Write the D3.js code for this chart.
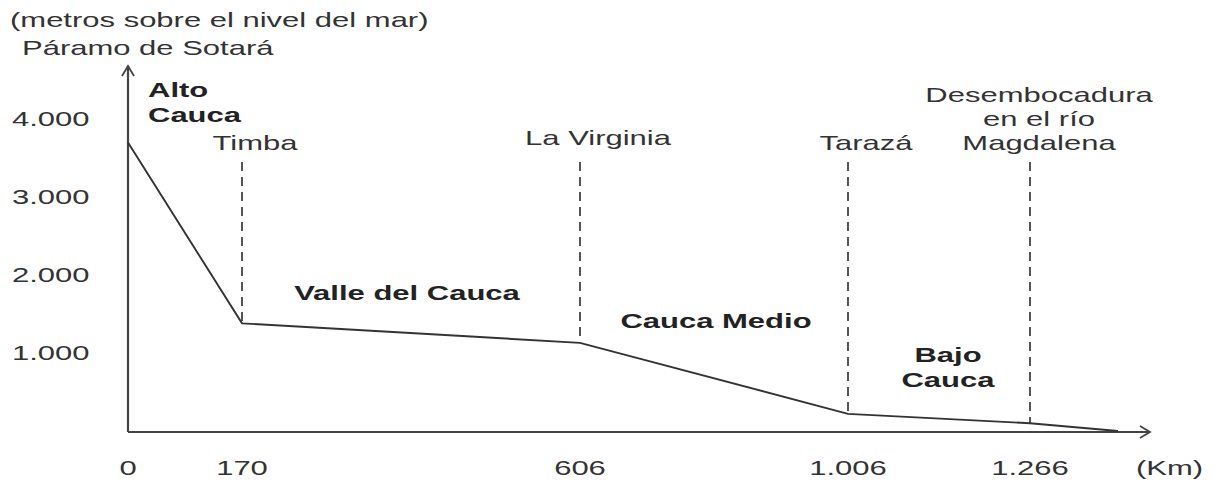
<!DOCTYPE html>
<html><head><meta charset="utf-8">
<script src="https://cdn.jsdelivr.net/npm/d3@7"></script>
<style>body{margin:0;background:#fff}text{font-family:"Liberation Sans",Arial,sans-serif;fill:#333}</style>
</head><body><svg id="c" width="1215" height="484"></svg>
<script>
// Data
const profileKm = [0, 170, 606, 1006, 1266, 1350];
const profileElev = [3700, 1380, 1130, 220, 100, 0];
const tickKm = [0, 170, 606, 1006, 1266];
const tickKmLabels = ["0", "170", "606", "1.006", "1.266"];
const yTicks = [1000, 2000, 3000, 4000];
const yTickLabels = ["1.000", "2.000", "3.000", "4.000"];
const places = ["Timba", "La Virginia", "Tarazá", "Desembocadura\nen el río\nMagdalena"];
const placeKm = [170, 606, 1006, 1266];
const regions = ["Alto\nCauca", "Valle del Cauca", "Cauca Medio", "Bajo\nCauca"];

const svg = d3.select("#c");
const x = d3.scaleLinear().domain([0,170,606,1006,1266,1350]).range([128,242,580,848,1030,1118]);
const y = d3.scaleLinear().domain([0,4000]).range([431,119]);
const ink = "#333";
const SX = 1.55, FS = 20;

// stretched text helper
function label(px, py, lines, opts={}) {
  const g = svg.append("g").attr("transform", `translate(${px},${py}) scale(${SX},1)`);
  const t = g.append("text").attr("text-anchor", opts.anchor || "start").attr("font-size", FS)
    .attr("font-weight", opts.bold ? "bold" : null);
  if (opts.bold) t.style("fill", "#222");
  lines.forEach((s, j) => t.append("tspan").attr("x", 0).attr("y", j * (opts.lh || 24)).text(s));
  return t;
}

// axes
svg.append("line").attr("x1",x(0)).attr("x2",x(0)).attr("y1",y(0)+1).attr("y2",66).attr("stroke","#444").attr("stroke-width",2.2);
svg.append("path").attr("d",`M${x(0)-6},${76}L${x(0)},${66}L${x(0)+6},${76}`).attr("fill","none").attr("stroke","#444").attr("stroke-width",1.8);
svg.append("line").attr("x1",x(0)).attr("x2",1150).attr("y1",y(0)+1).attr("y2",y(0)+1).attr("stroke","#444").attr("stroke-width",2.2);
svg.append("path").attr("d",`M1140,${y(0)-5}L1150,${y(0)+1}L1140,${y(0)+7}`).attr("fill","none").attr("stroke","#444").attr("stroke-width",1.8);

// y tick labels
yTicks.forEach((d,i)=>label(12, y(d)+7, [yTickLabels[i]]));
// x tick labels
tickKm.forEach((d,i)=>label(x(d), 475, [tickKmLabels[i]], {anchor:"middle"}));
label(1136, 475, ["(Km)"]);

// titles
label(10, 27, ["(metros sobre el nivel del mar)"]);
label(22, 55, ["Páramo de Sotará"]);

// dashed lines
const idx = placeKm.map(k=>profileKm.indexOf(k));
svg.selectAll(".dl").data(placeKm).join("line").attr("x1",d=>x(d)).attr("x2",d=>x(d)).attr("y1",162)
  .attr("y2",(d,i)=>y(profileElev[idx[i]])).attr("stroke","#444").attr("stroke-width",1.8).attr("stroke-dasharray","9,6");

// profile
svg.append("path").datum(profileKm.map((k,i)=>[k,profileElev[i]]))
  .attr("d",d3.line().x(d=>x(d[0])).y(d=>y(d[1]))).attr("fill","none").attr("stroke",ink).attr("stroke-width",1.9);

// place labels
const placePos = [[255,150],[598,145],[866,150],[1039,102]];
places.forEach((p,i)=>label(placePos[i][0], placePos[i][1], p.split("\n"), {anchor:"middle", lh:24}));
// region labels
const regPos = [[148,97,"start"],[407,300,"middle"],[716,328,"middle"],[948,362,"middle"]];
regions.forEach((r,i)=>label(regPos[i][0], regPos[i][1], r.split("\n"), {anchor:regPos[i][2], bold:true, lh:25}));
</script></body></html>
